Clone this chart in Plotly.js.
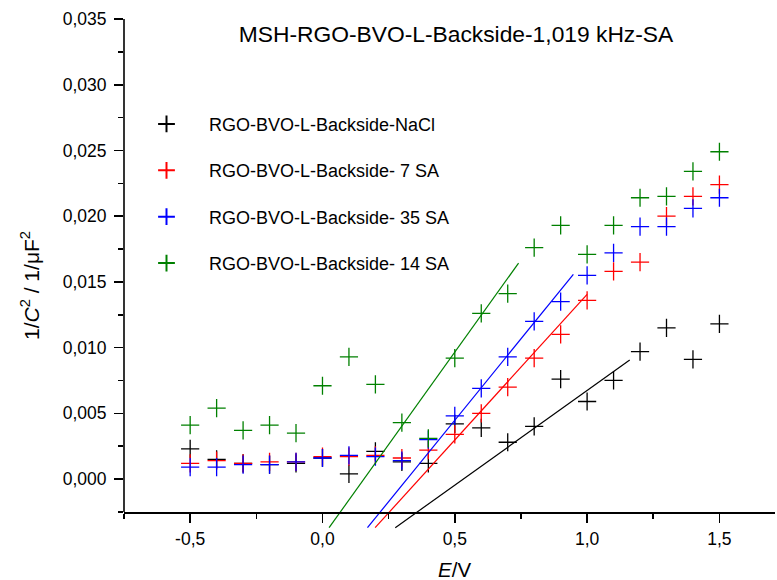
<!DOCTYPE html>
<html>
<head>
<meta charset="utf-8">
<script src="https://cdn.plot.ly/plotly-3.0.1.min.js"></script>
<style>html,body{margin:0;padding:0;background:#fff;}#chart{width:777px;height:580px;}</style>
</head>
<body>
<div id="chart"></div>
<script>
// Potential E (V)
var potential = [-0.5,-0.4,-0.3,-0.2,-0.1,0.0,0.1,0.2,0.3,0.4,0.5,0.6,0.7,0.8,0.9,1.0,1.1,1.2,1.3,1.4,1.5];

// 1/C^2 values (1/uF^2)
var naclValues = [0.0023,0.0015,0.0012,0.0011,0.0012,0.0016,0.0004,0.0021,0.0013,0.0012,0.0042,0.0039,0.0028,0.0040,0.0076,0.0059,0.0075,0.0097,0.0115,0.0091,0.0118];
var sa7Values  = [0.0012,0.0014,0.0012,0.0013,0.0013,0.0017,0.0017,0.0018,0.0016,0.0022,0.0034,0.0050,0.0070,0.0092,0.0110,0.0136,0.0158,0.0165,0.0200,0.0215,0.0224];
var sa35Values = [0.0009,0.0009,0.0011,0.0011,0.0013,0.0016,0.0018,0.0017,0.0014,0.0030,0.0048,0.0069,0.0093,0.0120,0.0135,0.0155,0.0172,0.0192,0.0192,0.0206,0.0214];
var sa14Values = [0.0041,0.0054,0.0037,0.0041,0.0035,0.0071,0.0093,0.0072,0.0043,0.0031,0.0092,0.0126,0.0141,0.0176,0.0193,0.0171,0.0193,0.0214,0.0215,0.0234,0.0249];

// Linear fit segments (start, end)
var naclFitX = [0.275, 1.161], naclFitY = [-0.0037, 0.00905];
var sa7FitX  = [0.199, 1.000], sa7FitY  = [-0.0037, 0.01405];
var sa35FitX = [0.170, 0.948], sa35FitY = [-0.0037, 0.01557];
var sa14FitX = [0.025, 0.741], sa14FitY = [-0.0037, 0.01643];

var seriesNames = ["RGO-BVO-L-Backside-NaCl","RGO-BVO-L-Backside- 7 SA","RGO-BVO-L-Backside- 35 SA","RGO-BVO-L-Backside- 14 SA"];
var seriesColors = ["#000000","#ff0000","#0000ff","#008000"];

var xTickVals = [-0.5, 0.0, 0.5, 1.0, 1.5];
var xTickText = ["-0,5","0,0","0,5","1,0","1,5"];
var yTickVals = [0.000,0.005,0.010,0.015,0.020,0.025,0.030,0.035];
var yTickText = ["0,000","0,005","0,010","0,015","0,020","0,025","0,030","0,035"];

var chartTitle = "MSH-RGO-BVO-L-Backside-1,019 kHz-SA";
var xTitle = "<i>E</i>/V";
var yTitle = "1/<i>C</i><sup>2</sup> / 1/\u03bcF<sup>2</sup>";

var FONT = "Liberation Sans, Arial, sans-serif";
var allValues = [naclValues, sa7Values, sa35Values, sa14Values];
var fitsX = [naclFitX, sa7FitX, sa35FitX, sa14FitX];
var fitsY = [naclFitY, sa7FitY, sa35FitY, sa14FitY];

var traces = [];
for (var i = 0; i < 4; i++) {
  traces.push({
    type: "scatter", mode: "markers", x: potential, y: allValues[i],
    name: seriesNames[i], legendgroup: "g" + i,
    marker: {symbol: "cross-thin-open", size: 13, color: seriesColors[i], line: {color: seriesColors[i], width: 1.3}},
    cliponaxis: false
  });
}
for (var j = 0; j < 4; j++) {
  traces.push({
    type: "scatter", mode: "lines", x: fitsX[j], y: fitsY[j],
    showlegend: false, hoverinfo: "skip",
    line: {color: seriesColors[j], width: 1.2}
  });
}

var yMin = -0.0038, yMax = 0.035, yAxisBottom = -0.0025;
var axisPos = (yAxisBottom - yMin) / (yMax - yMin);

var layout = {
  width: 777, height: 580,
  margin: {l: 124, r: 2, t: 19, b: 51},
  paper_bgcolor: "#ffffff", plot_bgcolor: "#ffffff",
  font: {family: FONT, size: 17, color: "#000"},
  showlegend: true,
  title: {text: chartTitle, font: {family: FONT, size: 22.8, color: "#000"},
          xref: "paper", x: 0.51, xanchor: "center", yref: "container", y: 1 - 34/580, yanchor: "middle"},
  legend: {x: 0.0, y: 0.83, xanchor: "left", yanchor: "top", bgcolor: "rgba(0,0,0,0)",
           font: {family: FONT, size: 18, color: "#000"}, traceorder: "grouped", tracegroupgap: 20,
           itemwidth: 75, itemsizing: "constant"},
  xaxis: {
    range: [-0.75, 1.71], anchor: "free", position: axisPos,
    showline: true, linecolor: "#000", linewidth: 1.6, mirror: false,
    showgrid: false, zeroline: false,
    tickmode: "array", tickvals: xTickVals, ticktext: xTickText,
    ticks: "outside", ticklen: 9, tickwidth: 1.6, tickcolor: "#000", ticklabelstandoff: 1,
    minor: {tickmode: "linear", tick0: 0, dtick: 0.25, ticks: "outside", ticklen: 5, tickwidth: 1.6, tickcolor: "#000", showgrid: false},
    tickfont: {family: FONT, size: 17.5, color: "#000"}
  },
  yaxis: {
    range: [yMin, yMax],
    showline: false, showgrid: false, zeroline: false,
    tickmode: "array", tickvals: yTickVals, ticktext: yTickText,
    ticks: "outside", ticklen: 9, tickwidth: 1.6, tickcolor: "#000", ticklabelstandoff: 4,
    minor: {tickmode: "linear", tick0: 0, dtick: 0.0025, ticks: "outside", ticklen: 5, tickwidth: 1.6, tickcolor: "#000", showgrid: false},
    tickfont: {family: FONT, size: 17.5, color: "#000"}
  },
  shapes: [
    {type: "line", xref: "paper", yref: "y", x0: 0, x1: 0, y0: yAxisBottom, y1: yMax, line: {color: "#000", width: 1.6}}
  ],
  annotations: [
    {text: xTitle, xref: "paper", yref: "paper", x: (455 - 124) / 651, y: 0, yshift: -(569 - 529), showarrow: false,
     xanchor: "center", yanchor: "middle", font: {family: FONT, size: 20.5, color: "#000"}},
    {text: yTitle, xref: "paper", yref: "paper", x: 0, xshift: -(124 - 30), y: (529 - 286) / 510, showarrow: false,
     textangle: -90, xanchor: "center", yanchor: "middle", font: {family: FONT, size: 21, color: "#000"}}
  ]
};

Plotly.newPlot("chart", traces, layout, {displayModeBar: false, staticPlot: true});
</script>
</body>
</html>
